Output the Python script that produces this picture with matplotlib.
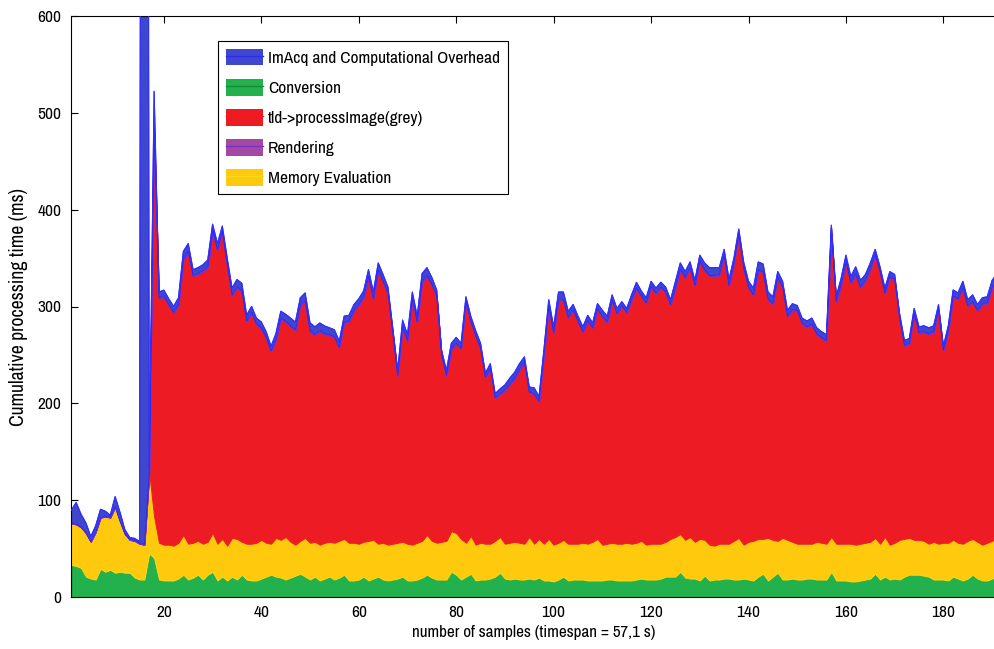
import numpy as np
import matplotlib
matplotlib.use("Agg")
import matplotlib.pyplot as plt
from matplotlib import font_manager
from matplotlib.patches import Patch
from matplotlib.lines import Line2D
from matplotlib.legend_handler import HandlerTuple

# ---- data (ms per sample) -------------------------------------------------
conversion = [
    33, 32, 30, 21, 19, 18, 29, 26, 28, 25,
    26, 25, 25, 20, 18, 18, 45, 40, 18, 17,
    17, 17, 19, 23, 18, 20, 23, 18, 23, 26,
    17, 21, 17, 21, 18, 23, 18, 17, 17, 19,
    21, 23, 21, 20, 18, 20, 22, 24, 21, 18,
    21, 17, 19, 21, 18, 20, 23, 17, 17, 18,
    21, 17, 19, 21, 18, 17, 18, 19, 21, 17,
    17, 18, 20, 23, 20, 18, 18, 18, 26, 23,
    18, 21, 24, 17, 18, 18, 19, 21, 25, 19,
    18, 19, 18, 18, 19, 18, 20, 17, 17, 16,
    18, 21, 17, 18, 18, 18, 17, 17, 17, 17,
    18, 18, 17, 17, 17, 17, 18, 19, 18, 18,
    18, 19, 21, 21, 21, 26, 20, 19, 19, 17,
    22, 17, 18, 18, 19, 19, 18, 18, 19, 18,
    17, 21, 24, 17, 21, 25, 18, 18, 19, 18,
    18, 19, 19, 18, 18, 18, 26, 17, 17, 17,
    16, 16, 17, 18, 19, 24, 18, 21, 18, 19,
    18, 21, 23, 23, 23, 22, 21, 18, 18, 18,
    17, 21, 19, 17, 19, 23, 19, 17, 17, 19, 21,
]

memory_eval = [
    43, 43, 42, 45, 38, 49, 53, 57, 54, 68,
    52, 40, 34, 38, 37, 36, 83, 43, 38, 37,
    37, 36, 37, 41, 37, 36, 35, 37, 34, 40,
    38, 39, 36, 40, 42, 34, 37, 38, 39, 40,
    35, 32, 40, 39, 44, 37, 32, 34, 40, 38,
    36, 37, 37, 36, 38, 38, 37, 39, 39, 37,
    36, 41, 40, 34, 38, 37, 37, 37, 36, 38,
    37, 38, 38, 41, 38, 38, 39, 40, 42, 43,
    42, 35, 39, 37, 38, 37, 36, 37, 37, 36,
    38, 38, 38, 37, 43, 37, 40, 38, 43, 38,
    38, 38, 38, 37, 37, 38, 38, 40, 43, 37,
    37, 38, 38, 38, 39, 38, 38, 39, 36, 37,
    37, 36, 36, 39, 41, 39, 39, 43, 38, 43,
    37, 37, 35, 37, 36, 36, 40, 43, 35, 39,
    41, 39, 36, 44, 38, 33, 43, 41, 38, 37,
    37, 36, 36, 39, 38, 37, 36, 38, 38, 38,
    39, 38, 38, 38, 38, 37, 37, 41, 36, 37,
    41, 39, 38, 36, 36, 36, 34, 39, 37, 38,
    39, 38, 37, 38, 39, 37, 38, 37, 39, 39, 41,
]

process_image = [
    0, 0, 0, 0, 0, 0, 0, 0, 0, 0,
    0, 0, 0, 0, 0, 0, 0, 400, 252, 256,
    247, 240, 245, 284, 301, 275, 275, 281, 283, 312,
    303, 316, 290, 250, 259, 259, 229, 238, 225, 218,
    211, 198, 204, 228, 222, 222, 221, 243, 244, 218,
    213, 220, 215, 213, 212, 199, 223, 228, 239, 246,
    252, 272, 248, 282, 269, 259, 216, 172, 222, 209,
    254, 227, 267, 267, 264, 254, 192, 170, 187, 195,
    196, 248, 221, 215, 200, 171, 180, 147, 147, 158,
    163, 168, 178, 187, 149, 154, 141, 194, 240, 218,
    250, 247, 233, 241, 229, 217, 230, 220, 237, 235,
    228, 250, 237, 245, 237, 251, 262, 252, 249, 265,
    258, 264, 257, 241, 257, 273, 270, 277, 264, 286,
    278, 277, 278, 277, 297, 266, 286, 313, 285, 262,
    253, 277, 275, 246, 243, 271, 258, 230, 239, 240,
    227, 223, 226, 214, 211, 209, 313, 249, 267, 290,
    269, 279, 264, 270, 281, 292, 280, 251, 276, 271,
    228, 199, 200, 233, 213, 215, 216, 216, 241, 198,
    218, 251, 251, 264, 242, 244, 238, 248, 247, 261, 264,
]

rendering = [
    0.5, 0.6, 0.5, 0.5, 0.4, 0.5, 0.6, 0.5, 0.5, 0.6,
    0.5, 0.5, 0.4, 0.5, 0.5, 0.5, 0.6, 1.2, 1.0, 0.9,
    1.0, 1.1, 1.0, 0.9, 1.0, 1.0, 1.1, 1.0, 0.9, 1.0,
    1.0, 1.1, 1.0, 1.0, 0.9, 1.0, 1.0, 1.1, 1.0, 1.0,
    0.9, 1.0, 1.0, 1.1, 1.0, 1.0, 0.9, 1.0, 1.0, 1.1,
    1.0, 1.0, 0.9, 1.0, 1.0, 1.1, 1.0, 1.0, 0.9, 1.0,
    1.0, 1.1, 1.0, 1.0, 0.9, 1.0, 1.0, 1.1, 1.0, 1.0,
    0.9, 1.0, 1.0, 1.1, 1.0, 1.0, 0.9, 1.0, 1.0, 1.1,
    1.0, 1.0, 0.9, 1.0, 1.0, 1.1, 1.0, 1.0, 0.9, 1.0,
    1.0, 1.1, 1.0, 1.0, 0.9, 1.0, 1.0, 1.1, 1.0, 1.0,
    0.9, 1.0, 1.0, 1.1, 1.0, 1.0, 0.9, 1.0, 1.0, 1.1,
    1.0, 1.0, 0.9, 1.0, 1.0, 1.1, 1.0, 1.0, 0.9, 1.0,
    1.0, 1.1, 1.0, 1.0, 0.9, 1.0, 1.0, 1.1, 1.0, 1.0,
    0.9, 1.0, 1.0, 1.1, 1.0, 1.0, 0.9, 1.0, 1.0, 1.1,
    1.0, 1.0, 0.9, 1.0, 1.0, 1.1, 1.0, 1.0, 0.9, 1.0,
    1.0, 1.1, 1.0, 1.0, 0.9, 1.0, 6.0, 1.1, 1.0, 1.0,
    0.9, 1.0, 1.0, 1.1, 1.0, 1.0, 0.9, 1.0, 1.0, 1.1,
    1.0, 1.0, 0.9, 1.0, 1.0, 1.1, 1.0, 1.0, 0.9, 1.0,
    1.0, 1.1, 1.0, 1.0, 0.9, 1.0, 1.0, 1.1, 1.0, 1.0, 0.9,
]

imacq_overhead = [
    13, 22, 13, 10, 5, 6, 8, 5, 2, 10,
    9, 4, 2, 2, 2, 3450, 6, 38, 6, 6,
    6, 6, 7, 8, 8, 6, 6, 6, 7, 6,
    6, 6, 6, 7, 8, 7, 6, 6, 6, 6,
    6, 5, 6, 7, 7, 8, 8, 7, 8, 8,
    8, 8, 8, 7, 7, 6, 6, 6, 6, 6,
    6, 7, 7, 7, 7, 6, 5, 5, 6, 6,
    6, 6, 8, 8, 7, 6, 5, 5, 6, 6,
    5, 5, 5, 5, 5, 4, 5, 4, 5, 5,
    6, 6, 6, 5, 5, 6, 5, 5, 6, 6,
    8, 8, 6, 5, 5, 5, 5, 5, 5, 6,
    6, 5, 5, 4, 4, 5, 6, 5, 5, 5,
    5, 5, 5, 5, 6, 6, 6, 6, 5, 6,
    7, 8, 8, 7, 6, 6, 5, 5, 6, 6,
    7, 8, 8, 7, 7, 6, 6, 6, 6, 5,
    5, 6, 6, 6, 6, 6, 3, 5, 6, 7,
    6, 7, 7, 6, 6, 5, 5, 5, 5, 5,
    5, 5, 5, 5, 6, 6, 6, 6, 5, 4,
    5, 6, 6, 6, 6, 7, 6, 6, 6, 7, 7,
]

labels = ["ImAcq and Computational Overhead", "Conversion",
          "tld->processImage(grey)", "Rendering", "Memory Evaluation"]
y_ticks = [0, 100, 200, 300, 400, 500, 600]
x_ticks = [20, 40, 60, 80, 100, 120, 140, 160, 180]

# ---- font: prefer a narrow / condensed face -------------------------------
fonts = font_manager.fontManager.ttflist
family, stretch, fsize = "DejaVu Sans", "normal", 10.5
narrow = [f for f in fonts if "Narrow" in f.name or "Condensed" in f.name]
cond = [f for f in fonts if str(f.stretch) in ("condensed", "semi-condensed",
                                               "extra-condensed", "500", "375")]
if narrow:
    family, fsize = narrow[0].name, 12.5
elif cond:
    family, stretch, fsize = cond[0].name, "condensed", 11.5
plt.rcParams["font.family"] = [family, "DejaVu Sans"]
plt.rcParams["font.stretch"] = stretch

fill = {"imacq": "#3F48CC", "conv": "#22B14C", "proc": "#ED1C24",
        "rend": "#A349A4", "mem": "#FFC90E"}
edge = {"imacq": "#2A2AF5", "conv": "#168C38", "proc": "#F41A1A",
        "rend": "#7A32C8", "mem": "#F5DC1A"}

fig = plt.figure(figsize=(9.95, 6.49), dpi=100)
ax = fig.add_axes([71.3 / 995, 52 / 649, 1 - 71.3 / 995 + 0.002, 581 / 649])

n = len(conversion)
for arr in (memory_eval, process_image, rendering, imacq_overhead):
    assert len(arr) == n
x = np.arange(1, n + 1)

# stacking order, bottom to top
stack = [("conv", conversion), ("mem", memory_eval), ("proc", process_image),
         ("rend", rendering), ("imacq", imacq_overhead)]
base = np.zeros(n)
for key, vals in stack:
    top = base + np.asarray(vals, dtype=float)
    ax.fill_between(x, base, top, facecolor=fill[key], edgecolor=edge[key],
                    linewidth=0.7, zorder=2)
    base = top
ax.plot(x, base, color="#3030FF", linewidth=0.8, zorder=3)

ax.set_xlim(1, n)
ax.set_ylim(0, 600)
ax.set_yticks(y_ticks)
ax.set_xticks(x_ticks)
ax.tick_params(direction="in", length=5, width=0.8, top=True, right=False,
               labelsize=fsize, colors="black")
ax.tick_params(axis="x", pad=6)
ax.tick_params(axis="y", pad=7)
for s in ("left", "bottom", "top"):
    ax.spines[s].set_linewidth(0.8)
ax.spines["right"].set_visible(False)

ax.set_xlabel("number of samples (timespan = 57,1 s)", fontsize=fsize * 0.98,
              labelpad=3)
ax.set_ylabel("Cumulative processing time (ms)", fontsize=fsize * 1.14,
              labelpad=7)

order = ["imacq", "conv", "proc", "rend", "mem"]
handles = [(Patch(facecolor=fill[k], edgecolor="none"),
            Line2D([], [], color=edge[k], linewidth=1.0)) for k in order]
leg = ax.legend(handles, labels,
                handler_map={tuple: HandlerTuple(ndivide=1, pad=0)},
                loc="upper left", bbox_to_anchor=(0.159, 0.957), fontsize=fsize,
                frameon=True, fancybox=False, edgecolor="black", framealpha=1,
                handlelength=2.1, handleheight=1.1, handletextpad=0.3,
                labelspacing=0.74, borderpad=0.45, borderaxespad=0)
leg.get_frame().set_linewidth(0.8)

fig.savefig("out.png", dpi=100, facecolor="white")
